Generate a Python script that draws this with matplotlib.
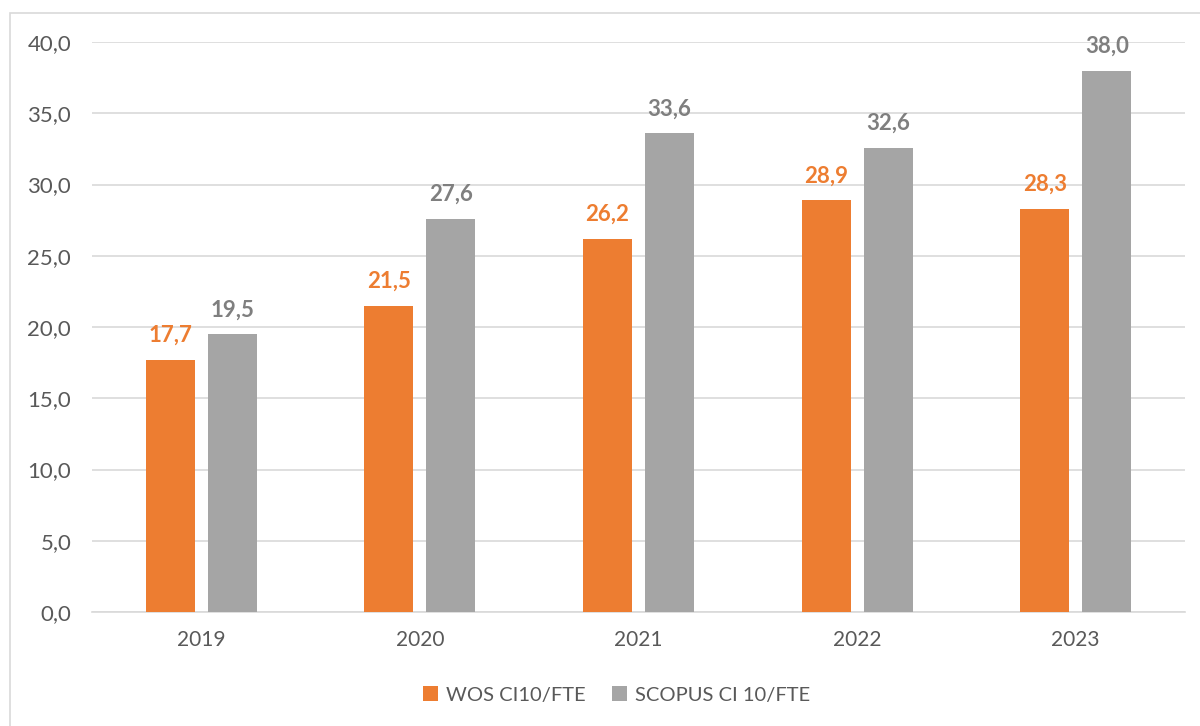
import numpy as np
import matplotlib.pyplot as plt
from matplotlib.patches import Rectangle

years = ["2019", "2020", "2021", "2022", "2023"]
wos = [17.7, 21.5, 26.2, 28.9, 28.3]
scopus = [19.5, 27.6, 33.6, 32.6, 38.0]
series_names = ["WOS CI10/FTE", "SCOPUS CI 10/FTE"]

orange = "#ED7D31"
grey = "#A5A5A5"
text_col = "#595959"

plt.rcParams['font.family'] = ['Lato', 'DejaVu Sans']

fig = plt.figure(figsize=(12, 7.26), dpi=100)
ax = fig.add_axes([0.0767, 0.157, 0.9108, 0.785])

# outer chart border like the spreadsheet frame
fig.patches.append(Rectangle((10 / 1200, -0.05), 1.2, 1 - 13 / 726 + 0.05,
                             transform=fig.transFigure, fill=False,
                             edgecolor="#D9D9D9", linewidth=1.2))

x = np.arange(len(years))
w = 0.224
off = 0.142
b1 = ax.bar(x - off, wos, w, color=orange, label=series_names[0], zorder=3)
b2 = ax.bar(x + off, scopus, w, color=grey, label=series_names[1], zorder=3)

for bars, vals, col in [(b1, wos, orange), (b2, scopus, "#7F7F7F")]:
    for r, v in zip(bars, vals):
        ax.annotate(f"{v:.1f}".replace(".", ","),
                    (r.get_x() + r.get_width() / 2, v),
                    xytext=(0, 10), textcoords="offset points",
                    ha="center", va="bottom", fontsize=16, fontweight="bold",
                    color=col, clip_on=False, zorder=4)

ax.set_xlim(-0.5, len(years) - 0.5)
ax.set_ylim(0, 40)
ax.set_yticks(np.arange(0, 41, 5))
ax.set_yticklabels([f"{t:.1f}".replace(".", ",") for t in np.arange(0, 41, 5)])
ax.set_xticks(x)
ax.set_xticklabels(years)
ax.tick_params(axis="both", length=0, labelcolor=text_col)
ax.tick_params(axis="y", pad=15, labelsize=16)
ax.tick_params(axis="x", pad=13, labelsize=15)

ax.grid(axis="y", color="#D9D9D9", linewidth=1.2, zorder=0)
for s in ["top", "right", "left"]:
    ax.spines[s].set_visible(False)
ax.spines["bottom"].set_color("#D9D9D9")
ax.spines["bottom"].set_linewidth(1.2)

leg = fig.legend(loc="center", bbox_to_anchor=(0.514, 1 - 695 / 726), ncol=2,
                 frameon=False, fontsize=14.5, handlelength=0.75, handleheight=0.75,
                 columnspacing=1.3, handletextpad=0.4)
for t in leg.get_texts():
    t.set_color(text_col)

fig.savefig("out.png", dpi=100)
